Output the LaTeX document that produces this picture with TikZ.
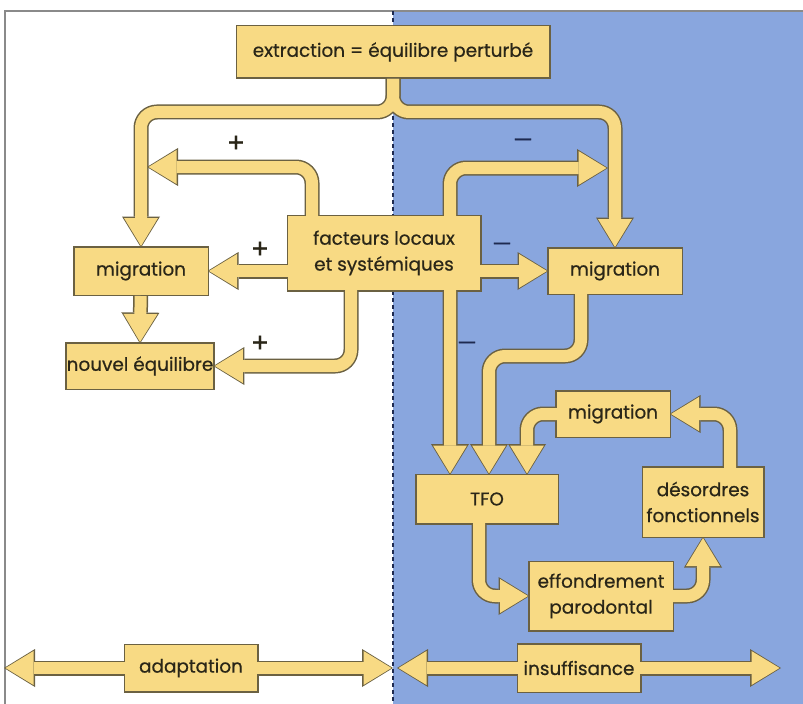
\documentclass[tikz,border=0pt]{standalone}
\usepackage{fontspec}
\setmainfont{Poppins}[FakeBold=0.6]
\usetikzlibrary{arrows.meta}
\pgfdeclarelayer{bg}
\pgfdeclarelayer{edge}
\pgfdeclarelayer{body}
\pgfsetlayers{bg,edge,body,main}
\definecolor{panel}{HTML}{89A6DE}
\definecolor{yell}{HTML}{F8DA84}
\definecolor{edgec}{HTML}{6B6142}
\definecolor{ink}{HTML}{2A2618}
\definecolor{framec}{HTML}{8A8A8A}
\definecolor{dashc}{HTML}{1E2A50}

\newcommand\pipe[2][]{%
  \begin{pgfonlayer}{edge}\draw[pipeedge,#1] #2;\end{pgfonlayer}%
  \begin{pgfonlayer}{body}\draw[pipebody,#1] #2;\end{pgfonlayer}}

\begin{document}
\begin{tikzpicture}[x=1bp,y=-1bp,
  box/.style = {font=\fontsize{18.5}{26}\selectfont, text=ink, align=center, inner sep=0pt, outer sep=0pt},
  pipeedge/.style = {draw=edgec, line width=15bp, rounded corners=16bp, >={Triangle[length=31bp,width=38bp,line width=0pt]}},
  pipebody/.style = {draw=yell, line width=12bp, rounded corners=16bp, >={Triangle[length=28bp,width=34bp,line width=0pt]}, shorten >=1.5bp, shorten <=1.5bp},
  sign/.style = {font=\fontsize{27}{27}\selectfont, text=ink},
  minus/.style = {font=\fontsize{22}{22}\selectfont, text=dashc}
  ]
\useasboundingbox (0,0) rectangle (803,704);
\begin{pgfonlayer}{bg}
\fill[white] (0,0) rectangle (803,704);
\fill[panel] (393,11) rectangle (803,704);
\draw[framec, line width=1.2bp] (5,704) -- (5,11) -- (803,11);
\draw[dashc, line width=1.8bp, dash pattern=on 4bp off 3bp] (393,11) -- (393,704);
\end{pgfonlayer}

\node[box, minimum width=312bp, minimum height=51bp] (ext) at (393,52) {extraction = équilibre perturbé};
\node[box, minimum width=133bp, minimum height=47bp] (migL) at (141,271) {migration};
\node[box, minimum width=145bp, minimum height=45bp] (nouv) at (140,366) {nouvel équilibre};
\node[box, minimum width=192bp, minimum height=74bp] (fact) at (384,253) {facteurs locaux\\et systémiques};
\node[box, minimum width=133bp, minimum height=45bp] (migR) at (615,271) {migration};
\node[box, minimum width=141bp, minimum height=48bp] (tfo) at (487,499) {TFO};
\node[box, minimum width=113bp, minimum height=45bp] (migB) at (613,414) {migration};
\node[box, minimum width=120bp, minimum height=69bp] (deso) at (703,502) {désordres\\fonctionnels};
\node[box, minimum width=143bp, minimum height=68bp] (effo) at (601,596) {effondrement\\parodontal};
\node[box, minimum width=132bp, minimum height=46bp] (adap) at (191,668) {adaptation};
\node[box, minimum width=122bp, minimum height=47bp] (insu) at (579,668) {insuffisance};

\foreach \n in {ext,migL,nouv,fact,migR,tfo,migB,deso,effo,adap,insu}{
  \begin{pgfonlayer}{edge}
    \filldraw[edgec, line width=3bp] (\n.south west) rectangle (\n.north east);
  \end{pgfonlayer}
  \begin{pgfonlayer}{body}
    \fill[yell] (\n.south west) rectangle (\n.north east);
  \end{pgfonlayer}
}

\coordinate (split) at (393,112);
\coordinate (hitL) at (147,167);
\coordinate (hitR) at (608,168);
\coordinate (aL) at (4,668);
\coordinate (aR) at (393,668);
\coordinate (iL) at (397,668);
\coordinate (iR) at (781,668);

% extraction
\pipe[->]{(ext) -- (split) -| (migL.north)}
\pipe[->]{(ext) -- (split) -| (migR.north)}
% facteurs
\pipe[->]{([xshift=-72bp]fact.center) |- (hitL)}
\pipe[->]{(fact.center |- migL.east) -- (migL.east)}
\pipe[->]{([xshift=-33bp]fact.center) |- (nouv.east)}
\pipe[->]{([xshift=66bp]fact.center) |- (hitR)}
\pipe[->]{(fact.center |- migR.west) -- (migR.west)}
\pipe[->]{([xshift=66bp]fact.center) -- ([xshift=-37bp]tfo.north)}
\pipe[->]{(migL) -- (nouv.north)}
% cycle
\pipe[->]{([xshift=-34bp]migR.center) -- ++(0,85) -| ([xshift=2bp]tfo.north)}
\pipe[->]{(migB.center) -| ([xshift=40bp]tfo.north)}
\pipe[->]{([xshift=-8bp]tfo.center) |- (effo.west)}
\pipe[->]{(effo.center) -| (deso.south)}
\pipe[->]{([xshift=27bp]deso.center) |- (migB.east)}
% bottom
\pipe[<->]{(aL) -- (aR)}
\pipe[<->]{(iL) -- (iR)}

\node[sign] (p1) at (236,144) {+};
\node[sign] (p2) at (260,250) {+};
\node[sign] (p3) at (260,344) {+};
\node[minus] (m1) at (523,143) {—};
\node[minus] (m2) at (502,247) {—};
\node[minus] (m3) at (467,346) {—};
\end{tikzpicture}
\end{document}
